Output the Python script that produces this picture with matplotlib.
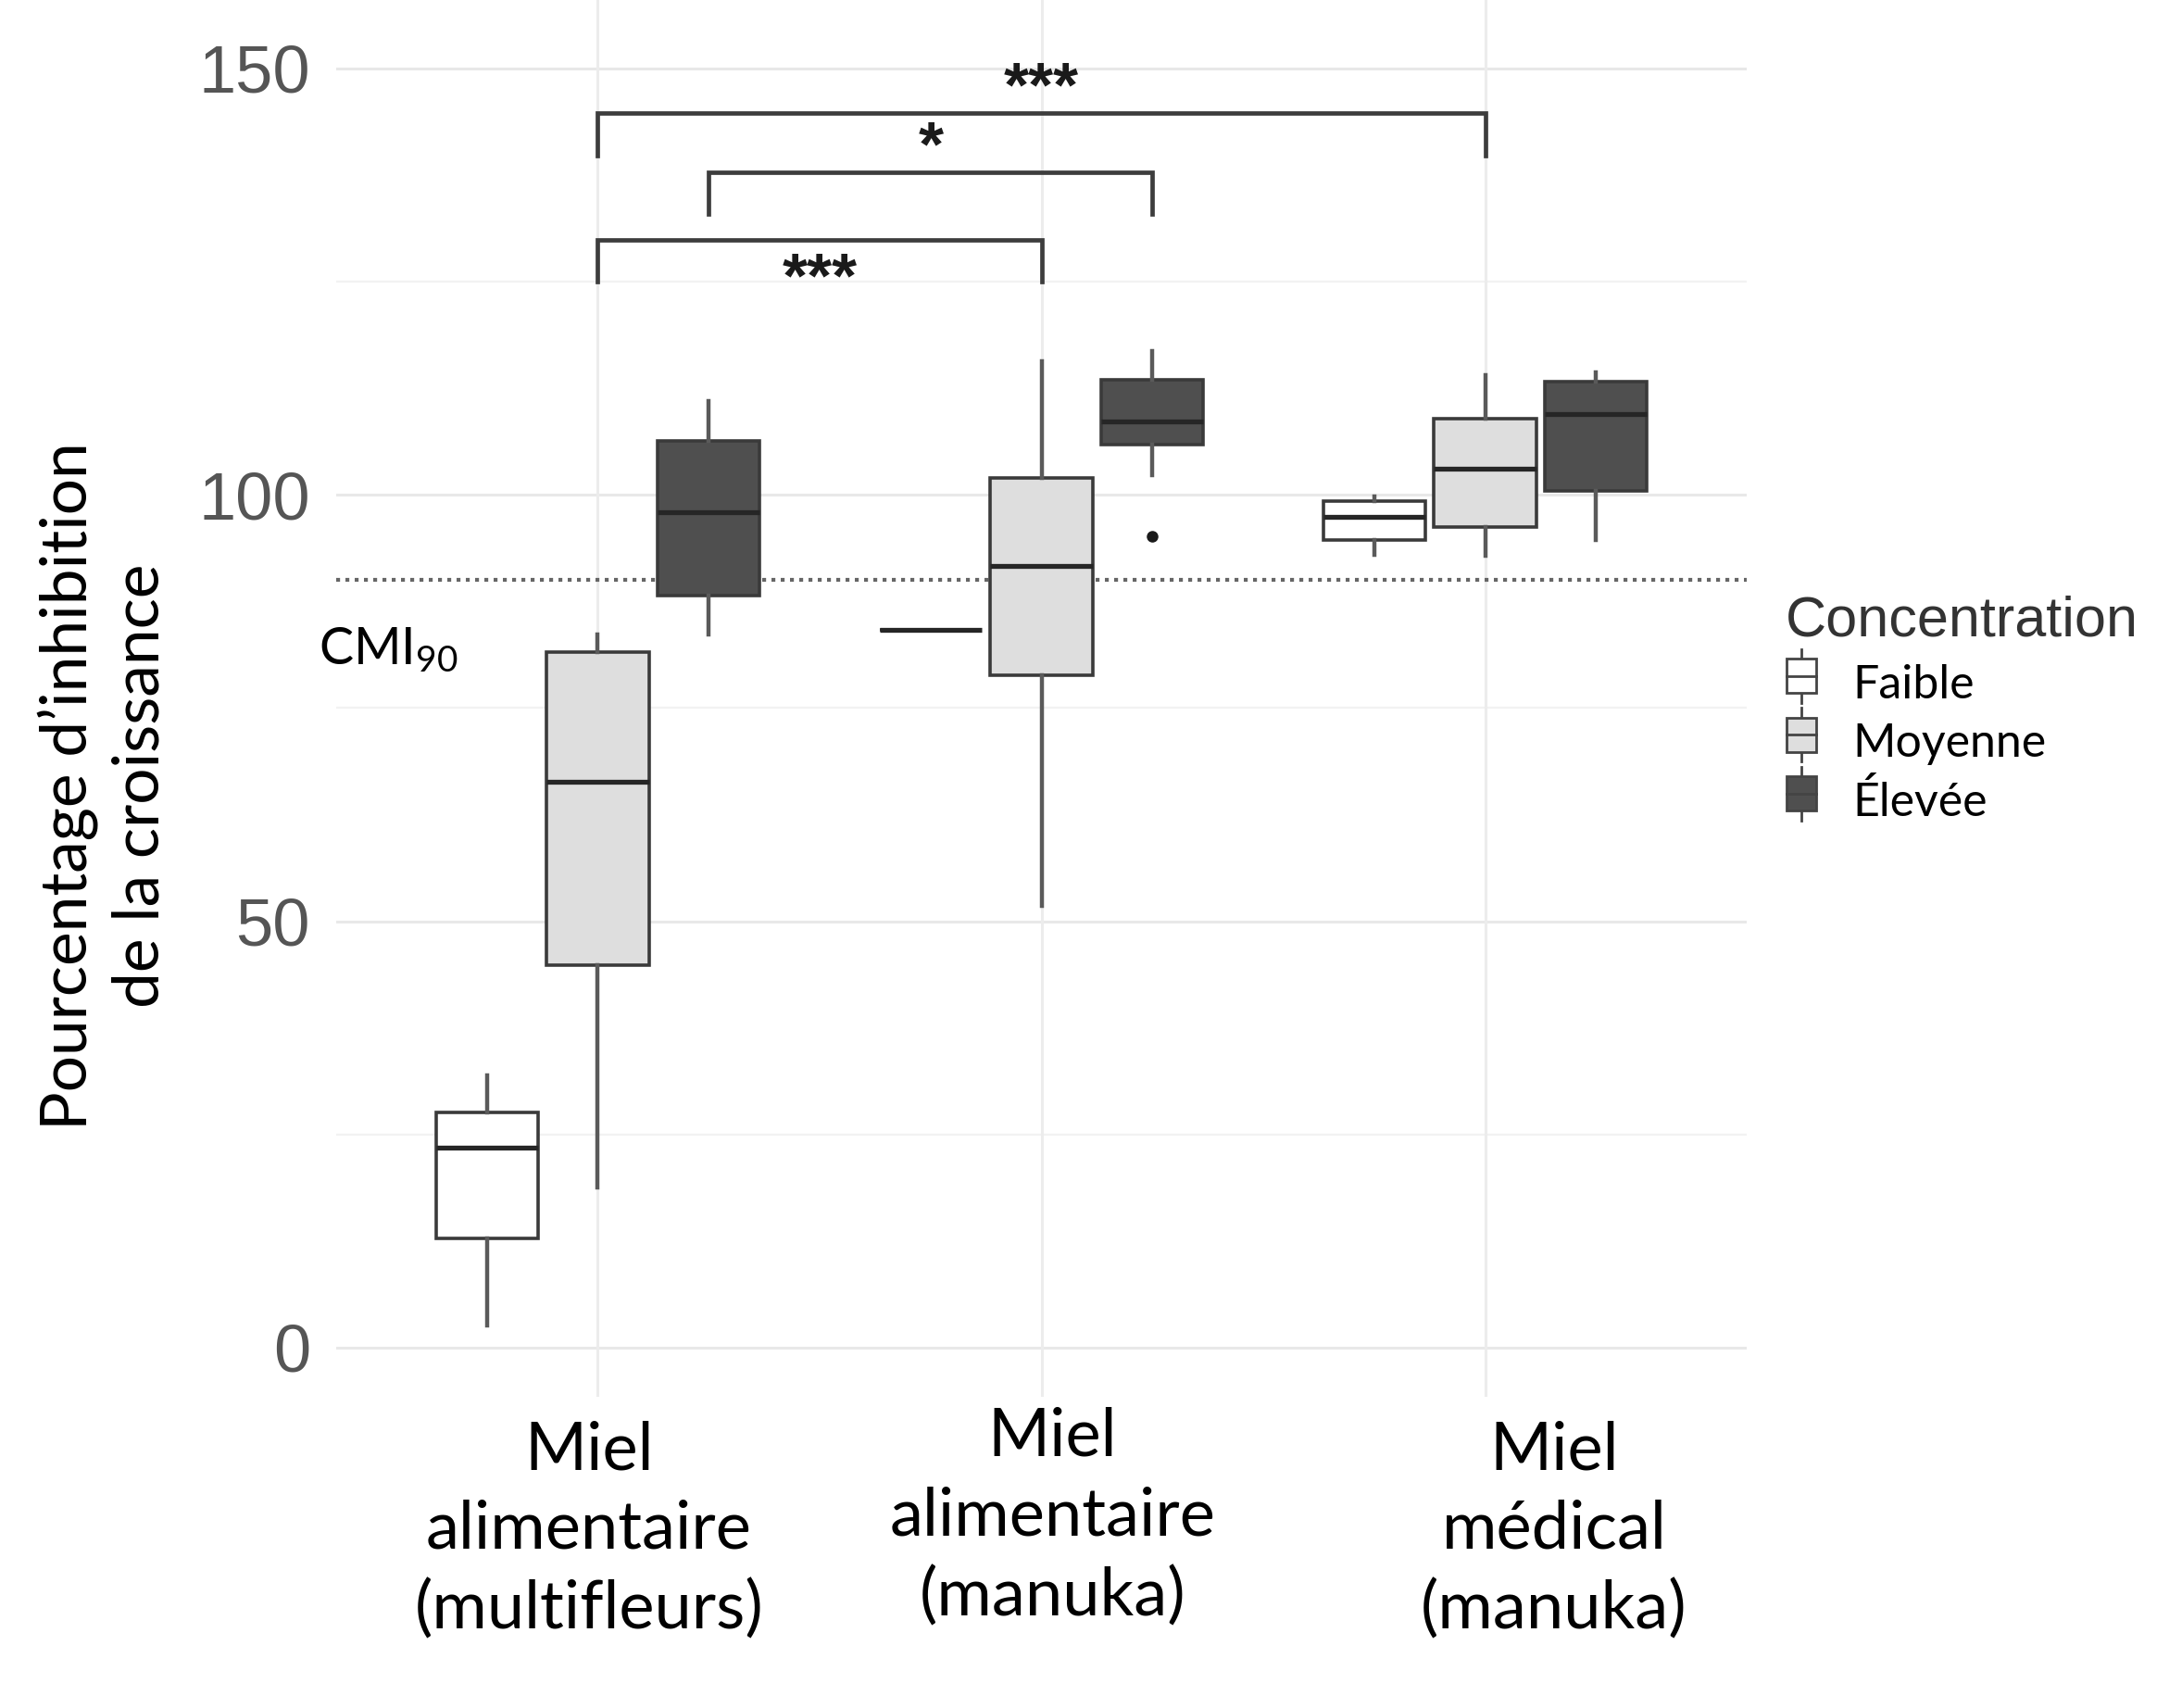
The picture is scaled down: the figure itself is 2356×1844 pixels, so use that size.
import matplotlib
matplotlib.use('Agg')
import matplotlib.pyplot as plt
from matplotlib.legend_handler import HandlerBase
from matplotlib.patches import Rectangle, Patch
from matplotlib.lines import Line2D
from matplotlib.transforms import blended_transform_factory

plt.rcParams['mathtext.fontset'] = 'custom'
plt.rcParams['mathtext.rm'] = 'Lato'
plt.rcParams['mathtext.it'] = 'Lato'

# honey types and concentration levels
groups = ['Miel\nalimentaire\n(multifleurs)', 'Miel\nalimentaire\n(manuka)', 'Miel\nmédical\n(manuka)']
concentrations = ['Faible', 'Moyenne', 'Élevée']

# five-number summaries per honey: (whisker low, Q1, median, Q3, whisker high)
faible = [(2.6, 12.8, 23.4, 27.6, 31.9), (84.2, 84.2, 84.2, 84.2, 84.2), (92.9, 94.7, 97.4, 99.3, 99.8)]
moyenne = [(18.8, 44.9, 66.3, 81.6, 83.6), (51.8, 78.8, 91.6, 102.0, 115.6), (92.8, 96.2, 103.0, 108.9, 114.0)]
elevee = [(83.6, 88.2, 98.0, 106.3, 111.0), (102.3, 105.9, 108.6, 113.5, 116.8), (94.7, 100.5, 109.5, 113.3, 114.3)]
outliers_elevee = [[], [95.1], []]

cmi90 = 90

# significance brackets: (group a, group b), concentration, label
bracket_pairs = [(0, 2), (0, 1), (0, 1)]
bracket_conc = ['Moyenne', 'Élevée', 'Moyenne']
bracket_labels = ['***', '*', '***']
bracket_tops = [144.7, 137.8, 129.9]
label_y = [147.5, 140.6, 125.2]

fill = {'Faible': 'white', 'Moyenne': '#dedede', 'Élevée': '#4f4f4f'}
offset = {'Faible': -0.25, 'Moyenne': 0.0, 'Élevée': 0.25}
CAL = ['Lato', 'DejaVu Sans']
ARIAL = ['Liberation Sans', 'DejaVu Sans']

fig = plt.figure(figsize=(23.56, 18.44), dpi=100)
ax = fig.add_axes([0.154, 0.182, 0.6466, 0.818])

# grid like theme_minimal
for v in [25, 75, 125]:
    ax.axhline(v, color='#f2f2f2', lw=1.6, zorder=0)
for v in [0, 50, 100, 150]:
    ax.axhline(v, color='#e8e8e8', lw=2.2, zorder=0)
for g in range(len(groups)):
    ax.axvline(g + 1, color='#ececec', lw=2.2, zorder=0)

series = {'Faible': faible, 'Moyenne': moyenne, 'Élevée': elevee}
for c in concentrations:
    stats = []
    for i, (lo, q1, med, q3, hi) in enumerate(series[c]):
        fl = outliers_elevee[i] if c == 'Élevée' else []
        stats.append(dict(whislo=lo, q1=q1, med=med, q3=q3, whishi=hi, fliers=fl))
    pos = [i + 1 + offset[c] for i in range(len(groups))]
    ax.bxp(stats, positions=pos, widths=0.23, patch_artist=True, showcaps=False,
           boxprops=dict(facecolor=fill[c], edgecolor='#3a3a3a', linewidth=2.6),
           medianprops=dict(color='#262626', linewidth=3.8),
           whiskerprops=dict(color='#5a5a5a', linewidth=3.2),
           flierprops=dict(marker='o', markerfacecolor='#1a1a1a', markeredgecolor='#1a1a1a', markersize=8),
           manage_ticks=False, zorder=3)

ax.axhline(cmi90, color='#666666', lw=3, linestyle=(0, (1, 1.4)), zorder=2)
ax.text(0.37, cmi90 - 8.2, r'CMI$_{90}$', fontsize=40, family=CAL, ha='left', va='center', color='black')

# brackets
for (a, b), c, lab, top, ly in zip(bracket_pairs, bracket_conc, bracket_labels, bracket_tops, label_y):
    xa = a + 1 + offset[c]
    xb = b + 1 + offset[c]
    ax.plot([xa, xa, xb, xb], [top - 4.9, top, top, top - 4.9], color='#3d3d3d', lw=3.4,
            solid_joinstyle='miter', zorder=4)
    ax.text((xa + xb) / 2, ly, lab, fontsize=50, family=ARIAL, fontweight='bold',
            ha='center', va='center', color='#1a1a1a')

ax.set_xlim(0.41, 3.59)
ax.set_ylim(-5.8, 158)
ax.set_yticks([0, 50, 100, 150])
ax.set_yticklabels(['0', '50', '100', '150'], family=ARIAL, fontsize=52, color='#555555')
ax.set_xticks([])
ax.tick_params(axis='y', length=0, pad=20)
for s in ax.spines.values():
    s.set_visible(False)

# x category labels, placed by hand as in the original
tr = blended_transform_factory(ax.transData, fig.transFigure)
label_dx = [-0.02, 0.025, 0.155]
label_fy = [0.104, 0.112, 0.104]
for i, name in enumerate(groups):
    fig.text(i + 1 + label_dx[i], label_fy[i], name, transform=tr, ha='center', va='center',
             fontsize=52, family=CAL, linespacing=1.38, color='black')

fig.text(0.0476, 0.54, 'Pourcentage d’inhibition\nde la croissance', rotation=90,
         ha='center', va='center', fontsize=50, family=CAL, linespacing=1.25, color='black')


class BoxKey(HandlerBase):
    def create_artists(self, legend, orig, xd, yd, width, height, fontsize, trans):
        cx = xd + width / 2
        w = width * 0.9
        h = height * 0.9
        box = Rectangle((cx - w / 2, yd + (height - h) / 2), w, h, facecolor=orig.get_facecolor(),
                        edgecolor='#444444', lw=2, transform=trans)
        med = Line2D([cx - w / 2, cx + w / 2], [yd + height / 2] * 2, color='#444444', lw=2, transform=trans)
        wh1 = Line2D([cx, cx], [yd - height * 0.2, yd + (height - h) / 2], color='#444444', lw=2, transform=trans)
        wh2 = Line2D([cx, cx], [yd + (height + h) / 2, yd + height * 1.2], color='#444444', lw=2, transform=trans)
        return [wh1, wh2, box, med]


handles = [Patch(facecolor=fill[c]) for c in concentrations]
leg = fig.legend(handles, concentrations, loc='upper left', bbox_to_anchor=(0.799, 0.676),
                 frameon=False, handler_map={Patch: BoxKey()}, handlelength=0.7, handleheight=0.9,
                 handletextpad=0.75, labelspacing=0.33, prop={'family': CAL, 'size': 36},
                 title='Concentration', alignment='left')
leg.get_title().set_fontfamily(ARIAL)
leg.get_title().set_fontsize(44)
leg.get_title().set_color('#333333')

fig.savefig('out.png', dpi=100)
